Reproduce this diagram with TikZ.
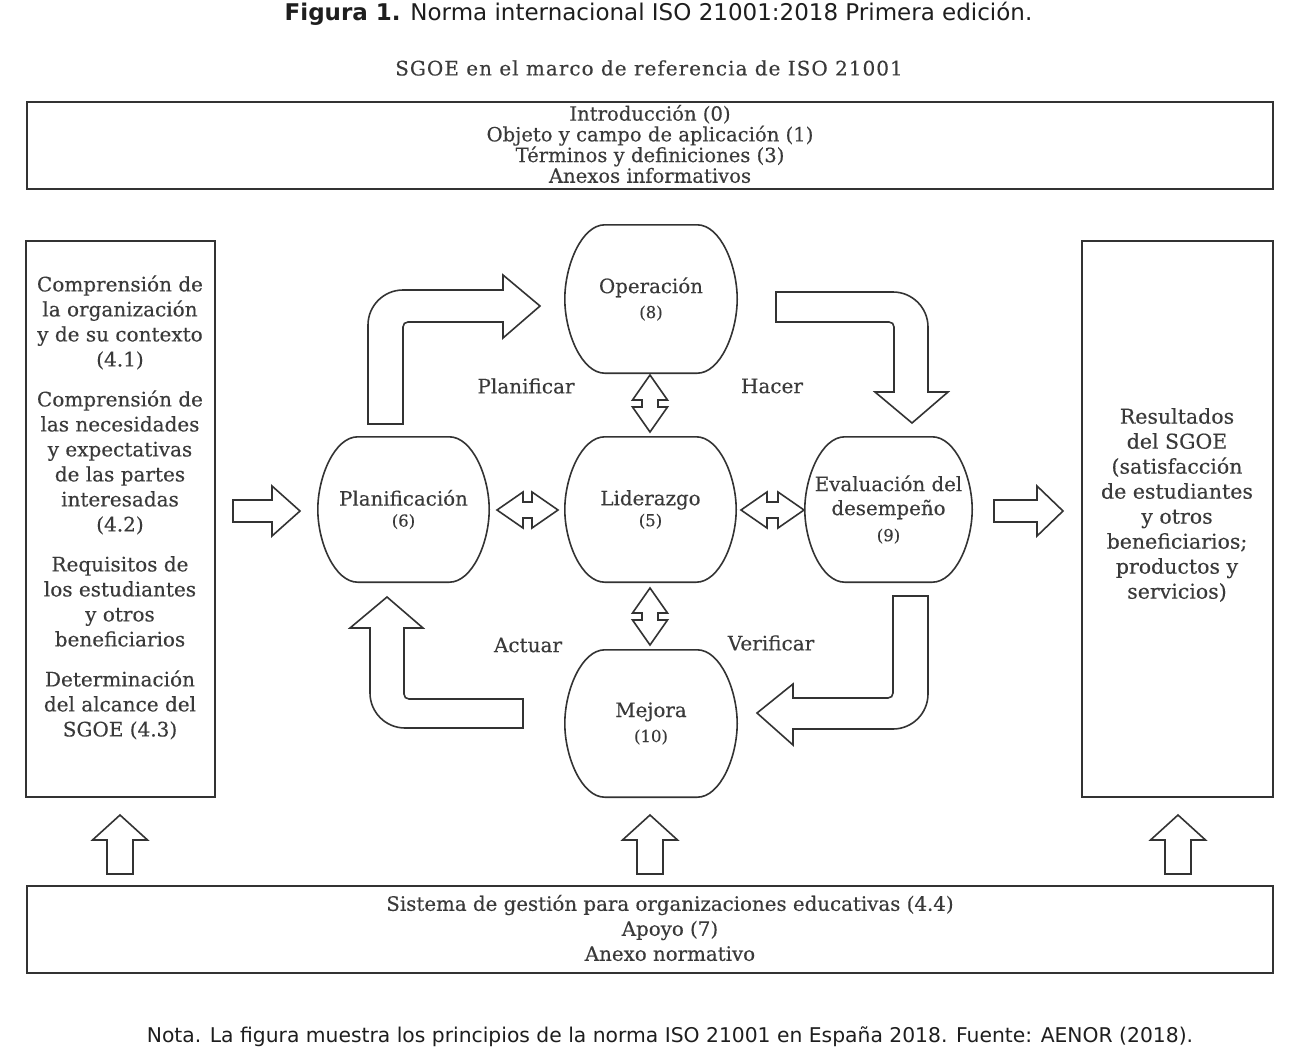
\documentclass[tikz,border=0pt]{standalone}
\usepackage{fontspec}
\setmainfont{DejaVu Serif}
\newfontfamily\bodyfont{DejaVu Serif}[FakeBold=0.3]
\newfontfamily\subfont{DejaVu Serif}[FakeBold=0.3,LetterSpace=5]
\newfontfamily\titlefont{DejaVu Sans}
\newcommand\numfont{\bodyfont\fontsize{16.5}{21}\selectfont}
\usetikzlibrary{calc}
\definecolor{ink}{HTML}{333333}
\definecolor{txtc}{HTML}{3A3A3A}
\definecolor{capc}{HTML}{1E1E1E}
\tikzset{
  boxframe/.style={draw=ink, line width=1.8pt},
  blk/.style={draw=ink, line width=1.6pt, fill=white, line join=miter},
  bodytxt/.style={text=txtc, font=\bodyfont\fontsize{20}{25}\selectfont, align=center, inner sep=0pt},
  blobtxt/.style={text=txtc, font=\bodyfont\fontsize{19.8}{21}\selectfont, align=center, inner sep=0pt},
  lbl/.style={text=txtc, font=\bodyfont\fontsize{20}{22}\selectfont, inner sep=0pt},
}
% outline of a rounded "blob" node: #1 name, #2 inset of flat top
\newcommand\blobline[2]{%
  \draw[blk, fill=none]
    ($(#1.north west)+(#2,0)$) -- ($(#1.north east)+(-#2,0)$)
    .. controls ($(#1.north east)+(-0.42*#2,0)$) and ($(#1.east)!0.45!(#1.north east)$) .. (#1.east)
    .. controls ($(#1.east)!0.45!(#1.south east)$) and ($(#1.south east)+(-0.42*#2,0)$) .. ($(#1.south east)+(-#2,0)$)
    -- ($(#1.south west)+(#2,0)$)
    .. controls ($(#1.south west)+(0.42*#2,0)$) and ($(#1.west)!0.45!(#1.south west)$) .. (#1.west)
    .. controls ($(#1.west)!0.45!(#1.north west)$) and ($(#1.north west)+(0.42*#2,0)$) .. ($(#1.north west)+(#2,0)$)
    -- cycle;}
% horizontal double block arrow: x0, x1, cy
\newcommand\dblh[3]{%
  \draw[blk] (#1,#3) -- (#1+26,#3-18) -- (#1+26,#3-8) -- (#2-26,#3-8) -- (#2-26,#3-18)
    -- (#2,#3) -- (#2-26,#3+18) -- (#2-26,#3+8) -- (#1+26,#3+8) -- (#1+26,#3+18) -- cycle;}
% vertical double block arrow: cx, y0, y1
\newcommand\dblv[3]{%
  \draw[blk] (#1,#2) -- (#1+17.5,#2+25) -- (#1+8,#2+25) -- (#1+8,#3-25) -- (#1+17.5,#3-25)
    -- (#1,#3) -- (#1-17.5,#3-25) -- (#1-8,#3-25) -- (#1-8,#2+25) -- (#1-17.5,#2+25) -- cycle;}
% up block arrow: cx
\newcommand\uparr[1]{%
  \draw[blk] (#1-13,874) -- (#1-13,840) -- (#1-27.5,840) -- (#1,815) -- (#1+27.5,840)
    -- (#1+13,840) -- (#1+13,874) -- cycle;}
% right block arrow: x0, xbase, xtip, cy
\newcommand\rarr[4]{%
  \draw[blk] (#1,#4-11) -- (#2,#4-11) -- (#2,#4-25) -- (#3,#4) -- (#2,#4+25)
    -- (#2,#4+11) -- (#1,#4+11) -- cycle;}
\begin{document}
\begin{tikzpicture}[x=1pt,y=-1pt]
\useasboundingbox[fill=white] (0,0) rectangle (1299,1053);

% caption texts
\node[text=capc, font=\titlefont\fontsize{23}{27}\selectfont, inner sep=0pt] (title) at (658.5,14)
  {\textbf{Figura 1.} Norma internacional ISO 21001:2018 Primera edición.};
\node[text=txtc, font=\subfont\fontsize{20}{22}\selectfont, inner sep=0pt] (sub) at (649,68)
  {SGOE en el marco de referencia de ISO 21001};
\node[text=capc, font=\titlefont\fontsize{20.3}{24}\selectfont, inner sep=0pt] (nota) at (670,1037)
  {Nota. La figura muestra los principios de la norma ISO 21001 en España 2018. Fuente: AENOR (2018).};

% frames
\draw[boxframe] (27,102) rectangle (1273,189);
\node[bodytxt, font=\bodyfont\fontsize{19.6}{20.7}\selectfont] (top) at (650,144)
  {Introducción (0)\\Objeto y campo de aplicación (1)\\Términos y definiciones (3)\\Anexos informativos};

\draw[boxframe] (26,241) rectangle (215,797);
\node[bodytxt] (left) at (120,507.5)
  {Comprensión de\\la organización\\y de su contexto\\(4.1)\\[15pt]
   Comprensión de\\las necesidades\\y expectativas\\de las partes\\interesadas\\(4.2)\\[15pt]
   Requisitos de\\los estudiantes\\y otros\\beneficiarios\\[15pt]
   Determinación\\del alcance del\\SGOE (4.3)};

\draw[boxframe] (1082,241) rectangle (1273,797);
\node[bodytxt, font=\bodyfont\fontsize{20.5}{25}\selectfont] (right) at (1177,505)
  {Resultados\\del SGOE\\(satisfacción\\de estudiantes\\y otros\\beneficiarios;\\productos y\\servicios)};

\draw[boxframe] (27,886) rectangle (1273,973);
\node[bodytxt, font=\bodyfont\fontsize{19.8}{25}\selectfont] (bottom) at (670,928)
  {Sistema de gestión para organizaciones educativas (4.4)\\Apoyo (7)\\Anexo normativo};

% blobs
\node[blobtxt, minimum width=172pt, minimum height=148pt] (op) at (651,299)
  {Operación\\[4pt]{\numfont(8)}};
\node[blobtxt, minimum width=171pt, minimum height=145pt] (pl) at (403.5,509.5)
  {Planificación\\{\numfont(6)}};
\node[blobtxt, minimum width=171pt, minimum height=145pt] (li) at (650.5,509.5)
  {Liderazgo\\{\numfont(5)}};
\node[blobtxt, minimum width=167pt, minimum height=145pt] (ev) at (888.5,509.5)
  {Evaluación del\\[3pt]desempeño\\[5pt]{\numfont(9)}};
\node[blobtxt, minimum width=172pt, minimum height=147pt] (me) at (651,723.5)
  {Mejora\\[4pt]{\numfont(10)}};
\blobline{op}{40}
\blobline{pl}{40}
\blobline{li}{40}
\blobline{ev}{40}
\blobline{me}{40}

% cycle labels
\node[lbl] (lplan) at (526,386) {Planificar};
\node[lbl] (lhac) at (772,386) {Hacer};
\node[lbl] (lact) at (528,645) {Actuar};
\node[lbl] (lver) at (771,643) {Verificar};

% bent block arrows
\draw[blk] (368,424) -- (368,325) .. controls (368,305.7) and (383.7,290) .. (403,290)
  -- (503,290) -- (503,275) -- (540,306) -- (503,338) -- (503,322) -- (408,322)
  .. controls (405,322) and (403,324) .. (403,327) -- (403,424) -- cycle;
\draw[blk] (776,292) -- (893,292) .. controls (912.3,292) and (928,307.7) .. (928,327)
  -- (928,392) -- (948,392) -- (912,423) -- (875,392) -- (894,392) -- (894,327)
  .. controls (894,324) and (892,322) .. (889,322) -- (776,322) -- cycle;
\draw[blk] (893,596) -- (928,596) -- (928,694) .. controls (928,713.3) and (912.3,729) .. (893,729)
  -- (793,729) -- (793,745) -- (757,713) -- (793,684) -- (793,698) -- (888,698)
  .. controls (891,698) and (893,696) .. (893,693) -- cycle;
\draw[blk] (523,699) -- (523,728) -- (405,728) .. controls (385.7,728) and (370,712.3) .. (370,693)
  -- (370,628) -- (350,628) -- (387,597) -- (423,628) -- (404,628) -- (404,694)
  .. controls (404,697) and (406,699) .. (409,699) -- cycle;

% double arrows
\dblh{497}{558}{510}
\dblh{741}{804}{510}
\dblv{650}{375}{432}
\dblv{650}{588}{645}

% straight arrows
\rarr{233}{272}{300}{511}
\rarr{994}{1037}{1063}{511}
\uparr{120}
\uparr{650}
\uparr{1178}
\end{tikzpicture}
\end{document}
